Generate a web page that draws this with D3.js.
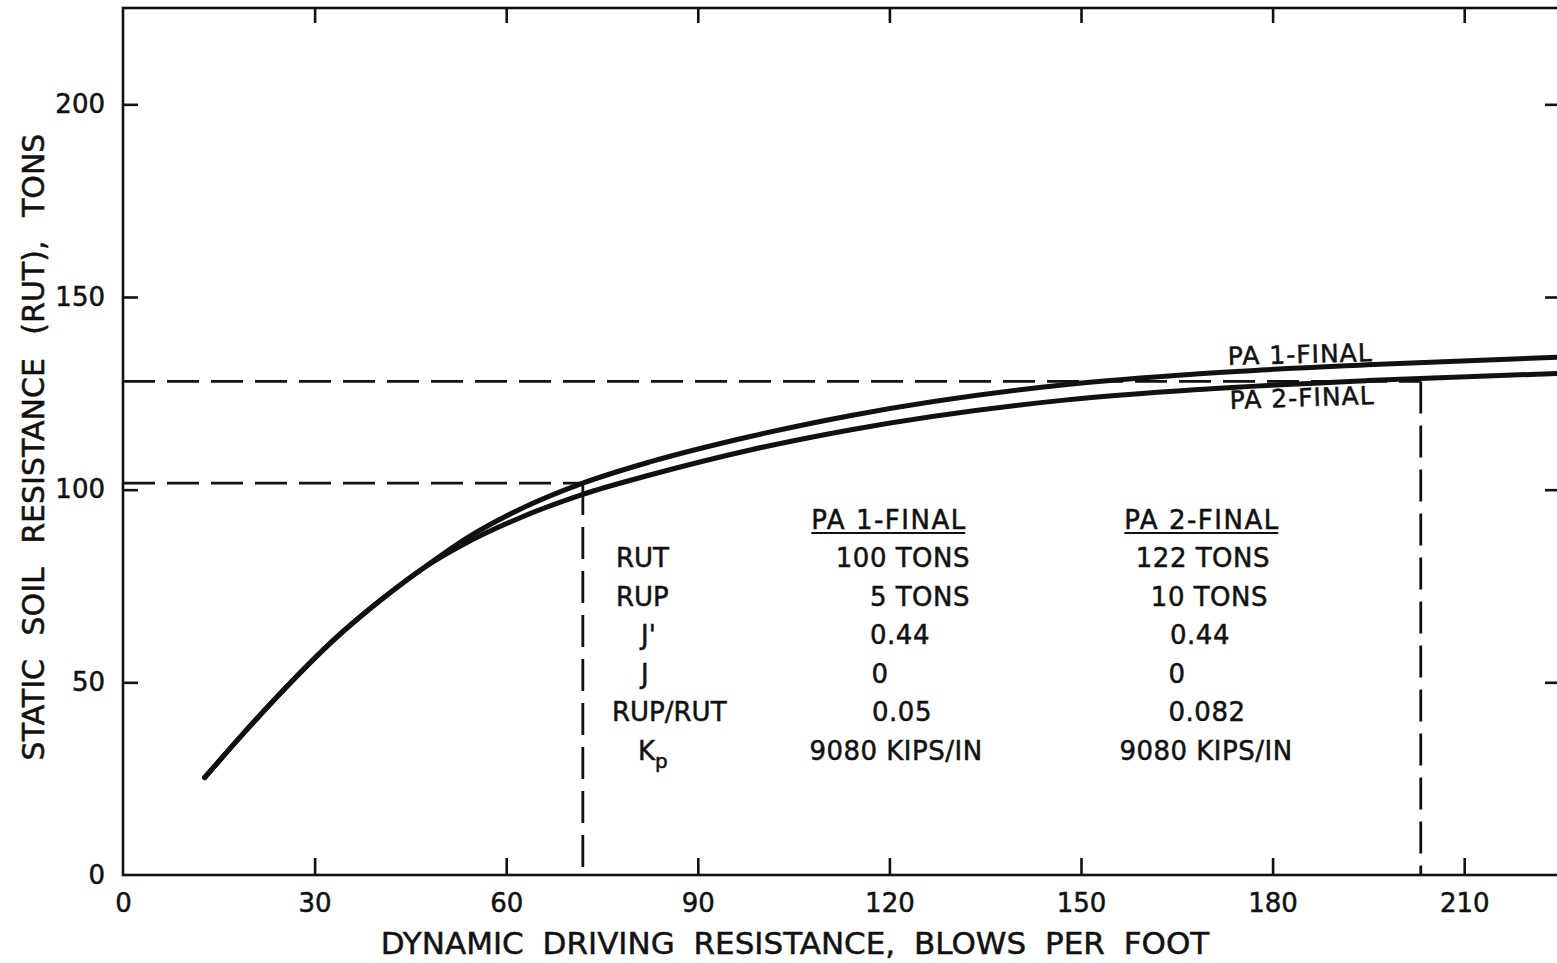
<!DOCTYPE html>
<html>
<head>
<meta charset="utf-8">
<script src="https://cdn.jsdelivr.net/npm/d3@7"></script>
<style>
  html, body { margin: 0; padding: 0; background: #fff; }
  svg { display: block; }
  text { font-family: "DejaVu Sans", "Liberation Sans", sans-serif; fill: #111; stroke: #111; stroke-width: 0.5px; }
</style>
</head>
<body>
<svg id="chart" width="1557" height="963"></svg>
<script>
// Axis ticks
const xTicks = [0, 30, 60, 90, 120, 150, 180, 210];
const yTicks = [0, 50, 100, 150, 200];

// Portion of the curve shared by both analyses (blows/ft, tons)
const sharedBlows = [12.8, 19, 26, 33, 40.7, 47];
const sharedRut   = [25.3, 37.0, 49.5, 61.0, 71.8, 79.6];

// PA 1-FINAL branch
const pa1Blows = [47, 54, 62, 72, 82.5, 98.2, 113.8, 147.8, 168.6, 194.8, 225];
const pa1Rut   = [79.6, 87.6, 94.8, 101.7, 107.2, 113.8, 119.2, 127.3, 130.1, 132.4, 134.4];

// PA 2-FINAL branch
const pa2Blows = [47, 54, 62, 72, 82.5, 98.2, 113.8, 147.8, 168.6, 194.8, 225];
const pa2Rut   = [79.6, 86.4, 92.6, 98.8, 103.8, 110.3, 115.5, 123.3, 126.0, 128.3, 130.2];

// Reference (dashed) lines
const refRutLow = 101.7, refBlowsLow = 72.0;
const refRutHigh = 128.1, refBlowsHigh = 203.2;

// Parameter table
const tableHeads = ["PA 1-FINAL", "PA 2-FINAL"];
const tableRows  = ["RUT", "RUP", "J'", "J", "RUP/RUT", "Kp"];
const pa1Params  = ["100 TONS", "5 TONS", "0.44", "0", "0.05", "9080 KIPS/IN"];
const pa2Params  = ["122 TONS", "10 TONS", "0.44", "0", "0.082", "9080 KIPS/IN"];

const svg = d3.select("#chart");
const L = 123, R = 1560, T = 8, B = 875;

const x = d3.scaleLinear().domain([0, 225]).range([L, R]);
const y = d3.scaleLinear().domain([0, 225]).range([B, T]);

const ink = "#111";

// frame
svg.append("rect")
  .attr("x", L).attr("y", T).attr("width", R - L).attr("height", B - T)
  .attr("fill", "none").attr("stroke", ink).attr("stroke-width", 2.6);

// axes (ticks point inward)
const fontTick = 26;
const gB = svg.append("g").attr("transform", `translate(0,${B})`)
  .call(d3.axisBottom(x).tickValues(xTicks).tickSizeInner(-17).tickSizeOuter(0).tickPadding(19));
const gT = svg.append("g").attr("transform", `translate(0,${T})`)
  .call(d3.axisTop(x).tickValues(xTicks.slice(1)).tickSizeInner(-15).tickSizeOuter(0).tickFormat(""));
const gL = svg.append("g").attr("transform", `translate(${L},0)`)
  .call(d3.axisLeft(y).tickValues(yTicks).tickSizeInner(-15).tickSizeOuter(0).tickPadding(18));
const gR = svg.append("g").attr("transform", `translate(${R},0)`)
  .call(d3.axisRight(y).tickValues(yTicks.slice(1)).tickSizeInner(-15).tickSizeOuter(0).tickFormat(""));

[gB, gT, gL, gR].forEach(g => {
  g.select(".domain").remove();
  g.selectAll(".tick line").attr("stroke", ink).attr("stroke-width", 2.6);
  g.selectAll(".tick text")
    .attr("font-family", "DejaVu Sans, sans-serif")
    .attr("font-size", fontTick).attr("fill", ink);
});
gL.selectAll(".tick").filter(d => d === 0).select("line").remove();
gB.selectAll(".tick").filter(d => d === 0).select("line").remove();
gB.selectAll(".tick text").attr("dy", "0.71em");

// dashed reference lines
const dash = "32,12";
const refs = [
  [[0, refRutLow], [refBlowsLow, refRutLow]],
  [[refBlowsLow, refRutLow], [refBlowsLow, 0]],
  [[0, refRutHigh], [refBlowsHigh, refRutHigh]],
  [[refBlowsHigh, refRutHigh], [refBlowsHigh, 0]]
];
svg.append("g").selectAll("path").data(refs).join("path")
  .attr("d", d => d3.line().x(p => x(p[0])).y(p => y(p[1]))(d))
  .attr("fill", "none").attr("stroke", ink).attr("stroke-width", 2.8)
  .attr("stroke-dasharray", dash);

// curves
const line = d3.line().x(d => x(d[0])).y(d => y(d[1])).curve(d3.curveMonotoneX);
const zip = (a, b) => a.map((v, i) => [v, b[i]]);
const shared = zip(sharedBlows, sharedRut);
const curves = [
  shared.concat(zip(pa1Blows, pa1Rut).slice(1)),
  shared.concat(zip(pa2Blows, pa2Rut).slice(1))
];
svg.append("defs").append("clipPath").attr("id", "plotClip")
  .append("rect").attr("x", L).attr("y", T).attr("width", R - L).attr("height", B - T);
svg.append("g").attr("clip-path", "url(#plotClip)")
  .selectAll("path").data(curves).join("path")
  .attr("d", line)
  .attr("fill", "none").attr("stroke", ink).attr("stroke-width", 5)
  .attr("stroke-linecap", "round").attr("stroke-linejoin", "round");

// curve labels
svg.append("text").attr("x", 1228).attr("y", 365)
  .attr("font-size", 25).attr("letter-spacing", 1)
  .attr("transform", "rotate(-1.5,1228,365)")
  .text(tableHeads[0]);
svg.append("text").attr("x", 1230).attr("y", 409)
  .attr("font-size", 25).attr("letter-spacing", 1)
  .attr("transform", "rotate(-2,1230,409)")
  .text(tableHeads[1]);

// axis titles
svg.append("text")
  .attr("x", 795).attr("y", 954)
  .attr("text-anchor", "middle").attr("font-size", 31)
  .attr("word-spacing", 9)
  .text("DYNAMIC  DRIVING  RESISTANCE,  BLOWS  PER  FOOT");
svg.append("text")
  .attr("transform", "translate(44,447) rotate(-90)")
  .attr("text-anchor", "middle").attr("font-size", 30)
  .attr("word-spacing", 14)
  .text("STATIC SOIL RESISTANCE  (RUT),  TONS");

// parameter table
const rowY = [557, 596, 634, 673, 711, 750];
const fs = 26;
const hdr = svg.append("g").attr("font-size", fs);
[[889, tableHeads[0]], [1202, tableHeads[1]]].forEach(([cx, t]) => {
  const tx = hdr.append("text").attr("x", cx).attr("y", 529)
    .attr("text-anchor", "middle").attr("letter-spacing", 1.5).text(t);
  const bb = tx.node().getBBox();
  hdr.append("line").attr("x1", bb.x).attr("x2", bb.x + bb.width - 1.5)
    .attr("y1", 533).attr("y2", 533).attr("stroke", ink).attr("stroke-width", 2);
});
const labelX = [616, 616, 641, 641, 612, 638];
tableRows.forEach((r, i) => {
  const t = svg.append("text").attr("x", labelX[i]).attr("y", rowY[i] + 10).attr("font-size", fs);
  if (r === "Kp") {
    t.append("tspan").text("K");
    t.append("tspan").attr("font-size", 20).attr("dy", 8).text("p");
  } else {
    t.text(r);
  }
});
const col1X = [970, 970, 900, 880, 902, 896];
const colA = ["end", "end", "middle", "middle", "middle", "middle"];
pa1Params.forEach((v, i) => {
  svg.append("text").attr("x", col1X[i]).attr("y", rowY[i] + 10)
    .attr("font-size", fs).attr("text-anchor", colA[i]).attr("letter-spacing", 0.5).text(v);
});
const col2X = [1270, 1268, 1200, 1177, 1207, 1206];
pa2Params.forEach((v, i) => {
  svg.append("text").attr("x", col2X[i]).attr("y", rowY[i] + 10)
    .attr("font-size", fs).attr("text-anchor", colA[i]).attr("letter-spacing", 0.5).text(v);
});
</script>
</body>
</html>
